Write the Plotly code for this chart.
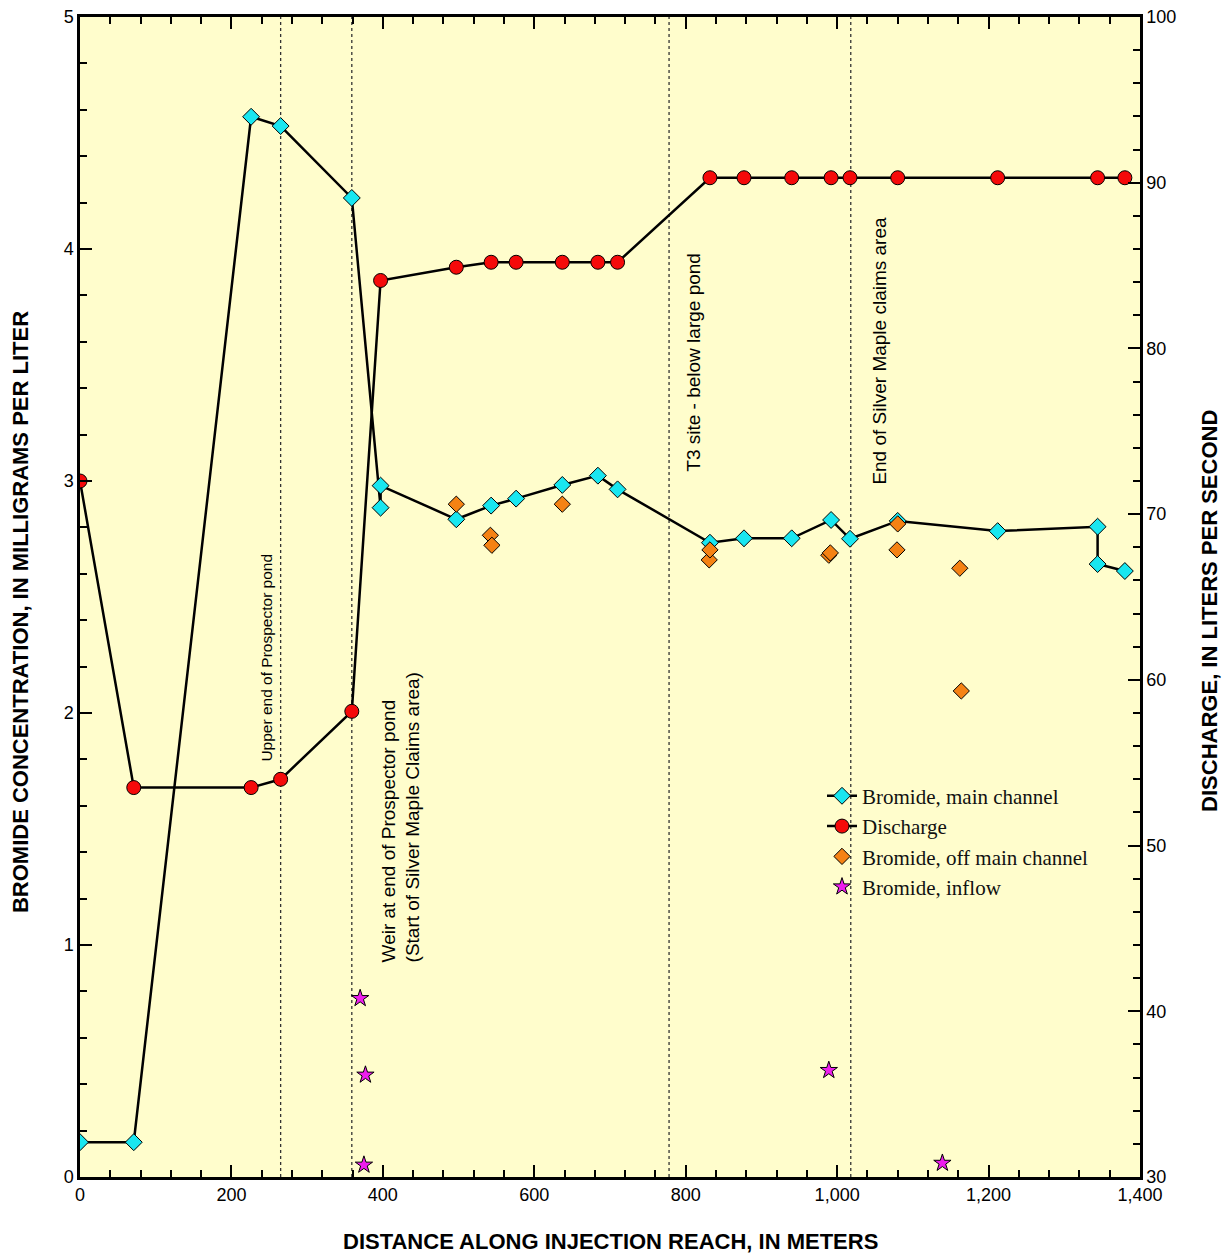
import plotly.graph_objects as go

# ---- data ----
main_x = [0, 71, 226, 265, 359, 397, 397, 497, 543, 576, 637, 684, 710, 832, 877, 940, 992, 1017, 1080, 1212, 1344, 1344, 1380]
main_y = [0.15, 0.15, 4.57, 4.53, 4.22, 2.885, 2.98, 2.835, 2.894, 2.924, 2.983, 3.023, 2.964, 2.734, 2.753, 2.753, 2.832, 2.751, 2.828, 2.784, 2.803, 2.642, 2.612]

dis_x = [0, 71, 226, 265, 359, 397, 497, 543, 576, 637, 684, 710, 832, 877, 940, 992, 1017, 1080, 1212, 1344, 1380]
dis_q = [72.0, 53.5, 53.5, 54.0, 58.1, 84.1, 84.9, 85.2, 85.2, 85.2, 85.2, 85.2, 90.3, 90.3, 90.3, 90.3, 90.3, 90.3, 90.3, 90.3, 90.3]

off_x = [497, 542, 544, 637, 831, 832, 989, 991, 1079, 1080, 1162, 1164]
off_y = [2.90, 2.766, 2.723, 2.90, 2.66, 2.703, 2.68, 2.69, 2.703, 2.815, 2.624, 2.095]

inf_x = [370, 375, 377, 989, 1139]
inf_y = [0.77, 0.052, 0.44, 0.46, 0.06]

site_x = [265, 359, 778, 1018]

x_title = "DISTANCE ALONG INJECTION REACH, IN METERS"
y_title = "BROMIDE CONCENTRATION, IN MILLIGRAMS PER LITER"
y2_title = "DISCHARGE, IN LITERS PER SECOND"

SANS = "Liberation Sans, Arial, Helvetica, sans-serif"
SERIF = "Liberation Serif, Times New Roman, serif"

fig = go.Figure()

fig.add_trace(go.Scatter(
    x=main_x, y=main_y, mode="lines+markers", name="Bromide, main channel",
    line=dict(color="black", width=2.5),
    marker=dict(symbol="diamond", size=13, color="#19E6F0", line=dict(color="black", width=1)),
))
fig.add_trace(go.Scatter(
    x=dis_x, y=dis_q, mode="lines+markers", name="Discharge", yaxis="y2",
    line=dict(color="black", width=2.5),
    marker=dict(symbol="circle", size=14, color="#F50A0A", line=dict(color="black", width=1)),
))
fig.add_trace(go.Scatter(
    x=off_x, y=off_y, mode="markers", name="Bromide, off main channel",
    marker=dict(symbol="diamond", size=12.5, color="#F58214", line=dict(color="black", width=1)),
))
fig.add_trace(go.Scatter(
    x=inf_x, y=inf_y, mode="markers", name="Bromide, inflow",
    marker=dict(symbol="star", size=13, color="#EE1EEE", line=dict(color="black", width=1)),
))

for sx in site_x:
    fig.add_shape(type="line", x0=sx, x1=sx, y0=0, y1=1, xref="x", yref="paper",
                  line=dict(color="#333333", width=1.3, dash="dot"), layer="below")

ann_font = dict(family=SANS, size=19, color="black")
fig.add_annotation(x=246, y=2.24, xref="x", yref="y", text="Upper end of Prospector pond",
                   textangle=-90, showarrow=False, font=dict(family=SANS, size=15.5, color="black"))
fig.add_annotation(x=424, y=1.55, xref="x", yref="y",
                   text="Weir at end of Prospector pond<br>(Start of Silver Maple Claims area)",
                   textangle=-90, showarrow=False, align="left", font=ann_font)
fig.add_annotation(x=811, y=3.51, xref="x", yref="y", text="T3 site - below large pond",
                   textangle=-90, showarrow=False, font=ann_font)
fig.add_annotation(x=1056, y=3.56, xref="x", yref="y", text="End of Silver Maple claims area",
                   textangle=-90, showarrow=False, font=ann_font)

tick_font = dict(family=SANS, size=18, color="black")
title_font = dict(family=SANS, size=22, color="black")

# axis titles placed as text in the margins
fig.add_annotation(x=0.5, y=-0.056, xref="paper", yref="paper", text="<b>" + x_title + "</b>",
                   showarrow=False, xanchor="center", yanchor="middle", font=title_font)
fig.add_annotation(x=-0.0566, y=0.487, xref="paper", yref="paper", text="<b>" + y_title + "</b>",
                   textangle=-90, showarrow=False, xanchor="center", yanchor="middle", font=title_font)
fig.add_annotation(x=1.066, y=0.488, xref="paper", yref="paper", text="<b>" + y2_title + "</b>",
                   textangle=-90, showarrow=False, xanchor="center", yanchor="middle", font=title_font)

fig.update_layout(
    width=1231, height=1257,
    margin=dict(l=80, r=91, t=17, b=80, autoexpand=False),
    paper_bgcolor="white",
    plot_bgcolor="#FFFDCC",
    separators=".,",
    showlegend=True,
    legend=dict(x=0.70, y=0.346, xanchor="left", yanchor="top",
                bgcolor="rgba(0,0,0,0)", borderwidth=0,
                font=dict(family=SERIF, size=21, color="#111111"),
                tracegroupgap=0),
    xaxis=dict(
        range=[0, 1400], dtick=200, tickformat=",d", automargin=False,
        showgrid=False, zeroline=False,
        showline=True, linecolor="black", linewidth=2.5, mirror="ticks",
        ticks="inside", ticklen=12, tickwidth=2, tickcolor="black",
        minor=dict(dtick=40, ticks="inside", ticklen=7, tickwidth=2, tickcolor="black"),
        tickfont=tick_font,
    ),
    yaxis=dict(
        range=[0, 5], dtick=1, automargin=False,
        showgrid=False, zeroline=False,
        showline=True, linecolor="black", linewidth=2.5,
        ticks="inside", ticklen=12, tickwidth=2, tickcolor="black",
        minor=dict(dtick=0.2, ticks="inside", ticklen=7, tickwidth=2, tickcolor="black"),
        tickfont=tick_font,
    ),
    yaxis2=dict(
        range=[30, 100], dtick=10, overlaying="y", side="right", automargin=False,
        showgrid=False, zeroline=False,
        showline=True, linecolor="black", linewidth=2.5,
        ticks="inside", ticklen=12, tickwidth=2, tickcolor="black",
        minor=dict(dtick=2, ticks="inside", ticklen=7, tickwidth=2, tickcolor="black"),
        tickfont=tick_font,
    ),
)

fig.write_html("out.html")
